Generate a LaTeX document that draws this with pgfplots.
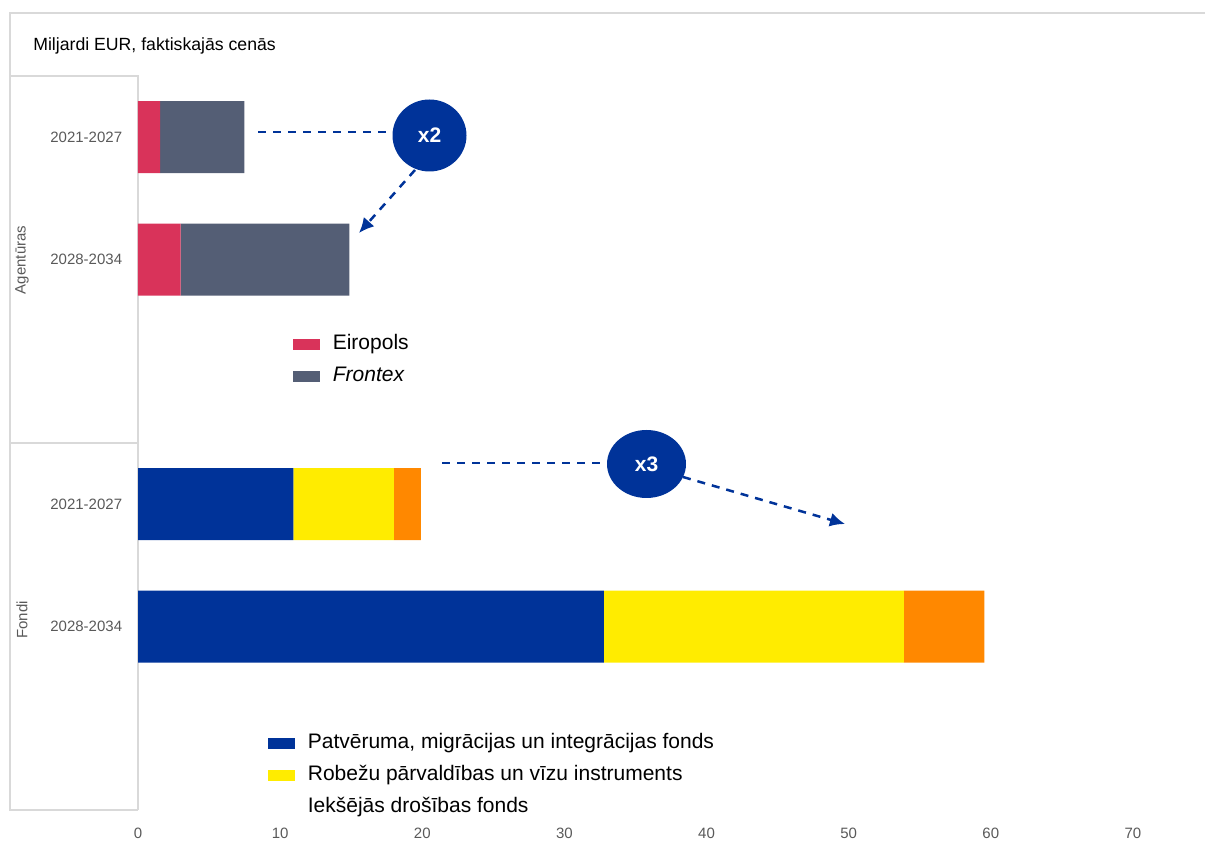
\documentclass[border=0pt]{standalone}
\usepackage{fontspec}
\setmainfont{Liberation Sans}
\usepackage{pgfplots}
\pgfplotsset{compat=1.18}
\usetikzlibrary{arrows.meta}

\definecolor{euroblue}{RGB}{0,51,153}
\definecolor{eiropols}{RGB}{217,51,90}
\definecolor{frontex}{RGB}{84,94,117}
\definecolor{bmvi}{RGB}{255,236,0}
\definecolor{isf}{RGB}{255,136,0}
\definecolor{framegray}{RGB}{217,217,217}
\definecolor{tickgray}{RGB}{89,89,89}

% 1 px of the reference = 0.6pt
\pgfplotsset{
  base/.style={
    at={(82.8pt,18.6pt)}, anchor=south west,
    scale only axis, width=639.6pt, height=440.4pt,
    xmin=0, xmax=75, ymin=-0.5, ymax=5.5, y dir=reverse,
    xbar stacked, bar width=43.2pt,
    axis line style={draw=none}, major tick length=0pt,
    /pgf/number format/assume math mode=true,
    legend cell align=left,
    legend image code/.code={\fill[##1] (0pt,-3.3pt) rectangle (16.2pt,3.3pt);},
    legend style={draw=none, fill=none, inner sep=0pt, column sep=7.5pt, row sep=7.2pt,
      font=\fontsize{12.6}{14}\selectfont,
      nodes={inner sep=0pt, text height=9pt, text depth=3pt}},
  }
}

\begin{document}
\begin{tikzpicture}[x=0.6pt,y=0.6pt]
\useasboundingbox (0,0) rectangle (1205,841);

% frame and category table
\draw[framegray, line width=0.8pt] (1205,828) -- (10,828) -- (10,31) -- (138,31);
\draw[framegray, line width=0.8pt] (10,765) -- (138,765) -- (138,31);
\draw[framegray, line width=0.8pt] (10,398) -- (138,398);

\node[anchor=base west, inner sep=0pt, font=\fontsize{10.6}{12}\selectfont] at (33,790) {Miljardi EUR, faktiskajās cenās};

\node[rotate=90, font=\fontsize{9}{10}\selectfont, text=tickgray] at (22,581) {Agentūras};
\node[rotate=90, font=\fontsize{9}{10}\selectfont, text=tickgray] at (22,221) {Fondi};

% Agentūras
\begin{axis}[base,
    xtick={0,10,...,70},
    ytick={0,1,3,4},
    yticklabels={2021-2027,2028-2034,2021-2027,2028-2034},
    ticklabel style={font=\fontsize{9}{10}\selectfont, text=tickgray},
    yticklabel style={xshift=-6pt},
    xticklabel style={yshift=-7pt},
    legend style={at={(0.1454,0.648)}, anchor=north west},
  ]
  \addplot[fill=eiropols, draw=none] coordinates {(1.55,0) (3.0,1)};
  \addlegendentry{Eiropols}
  \addplot[fill=frontex, draw=none] coordinates {(5.93,0) (11.87,1)};
  \addlegendentry{\textit{Frontex}}
\end{axis}

% Fondi
\begin{axis}[base, xtick=\empty, ytick=\empty,
    legend style={at={(0.122,0.105)}, anchor=north west},
  ]
  \addplot[fill=euroblue, draw=none] coordinates {(10.93,3) (32.78,4)};
  \addlegendentry{Patvēruma, migrācijas un integrācijas fonds}
  \addplot[fill=bmvi, draw=none] coordinates {(7.08,3) (21.11,4)};
  \addlegendentry{Robežu pārvaldības un vīzu instruments}
  \addplot[fill=isf, draw=none, legend image code/.code={}] coordinates {(1.90,3) (5.65,4)};
  \addlegendentry{Iekšējās drošības fonds}
\end{axis}

% annotations
\begin{scope}[euroblue, line width=1.5pt, dash pattern=on 4.8pt off 4.2pt]
  \draw (258,709) -- (388,709);
  \draw[-{Latex[length=9pt,width=8.5pt]}] (415,671) -- (359,608);
  \draw (442,378) -- (603,378);
  \draw[-{Latex[length=9pt,width=8.5pt]}] (683,364) -- (845,317);
\end{scope}
\fill[euroblue] (429.5,705.5) ellipse (37 and 36);
\node[text=white, font=\bfseries\fontsize{12.6}{14}\selectfont] at (429.5,705.5) {x2};
\fill[euroblue] (646.5,377) ellipse (39.5 and 34);
\node[text=white, font=\bfseries\fontsize{12.6}{14}\selectfont] at (646.5,377) {x3};
\end{tikzpicture}
\end{document}
